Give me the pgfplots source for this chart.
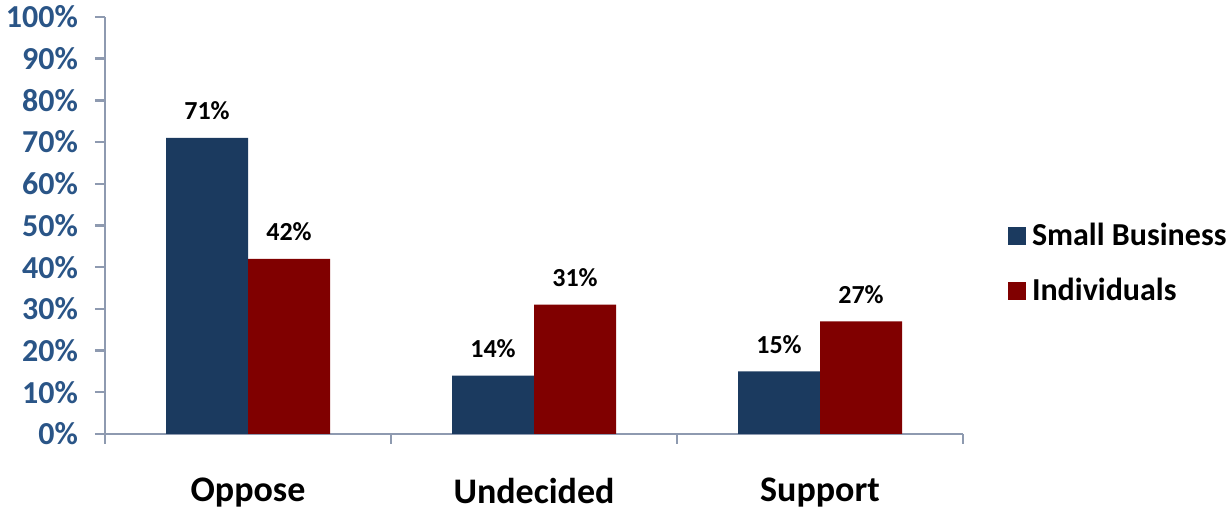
\documentclass[border=0pt]{standalone}
\usepackage{pgfplots}
\pgfplotsset{compat=1.18}
\usepackage{fontspec}
\setmainfont{Carlito}

\definecolor{sbblue}{HTML}{1B3A5F}
\definecolor{indred}{HTML}{800000}
\definecolor{axisgray}{HTML}{8E9AB0}
\definecolor{ticklabelblue}{HTML}{2A5587}

\begin{document}
\begin{tikzpicture}
\begin{axis}[
    name=ax,
    scale only axis,
    width=429pt, height=208.5pt,
    ybar=0pt, bar width=41pt,
    xmin=-0.5, xmax=2.5,
    ymin=0, ymax=100,
    axis x line*=bottom,
    axis y line*=left,
    axis line style={draw=axisgray, line width=1.2pt},
    tick align=outside,
    major tick length=5pt,
    tick style={draw=axisgray, line width=1.2pt},
    ytick={0,10,...,100},
    yticklabel={\pgfmathprintnumber{\tick}\%},
    /pgf/number format/assume math mode=true,
    yticklabel style={font=\fontsize{16}{18}\bfseries, text=ticklabelblue, xshift=-5pt},
    xtick={-0.5,0.5,1.5,2.5},
    xticklabels={},
    extra x ticks={0,1,2},
    extra x tick labels={Oppose,Undecided,Support},
    extra x tick style={major tick length=0pt,
        tick label style={font=\fontsize{18}{20}\bfseries, text=black, yshift=-18.5pt}},
    nodes near coords={\pgfmathprintnumber{\pgfplotspointmeta}\%},
    every node near coord/.append style={font=\fontsize{13}{15}\bfseries, text=black, anchor=center, yshift=13.5pt},
    legend style={at={(1.045,0.409)}, anchor=west, draw=none, fill=none,
        font=\fontsize{16}{18}\bfseries, row sep=15pt,
        nodes={inner sep=0pt}},
    legend cell align=left,
    legend image code/.code={\path[#1, draw=none] (0pt,-4.5pt) rectangle (9pt,4.5pt);},
    clip=false,
]
\addplot[fill=sbblue, draw=none] coordinates {(0,71) (1,14) (2,15)};
\addplot[fill=indred, draw=none] coordinates {(0,42) (1,31) (2,27)};
\legend{\hspace{3pt}Small Business,\hspace{3pt}Individuals}
\end{axis}
\pgfresetboundingbox
\path[use as bounding box] ([xshift=-52.5pt,yshift=-39pt]ax.south west) rectangle ([xshift=133.5pt,yshift=8.5pt]ax.north east);
\end{tikzpicture}
\end{document}
